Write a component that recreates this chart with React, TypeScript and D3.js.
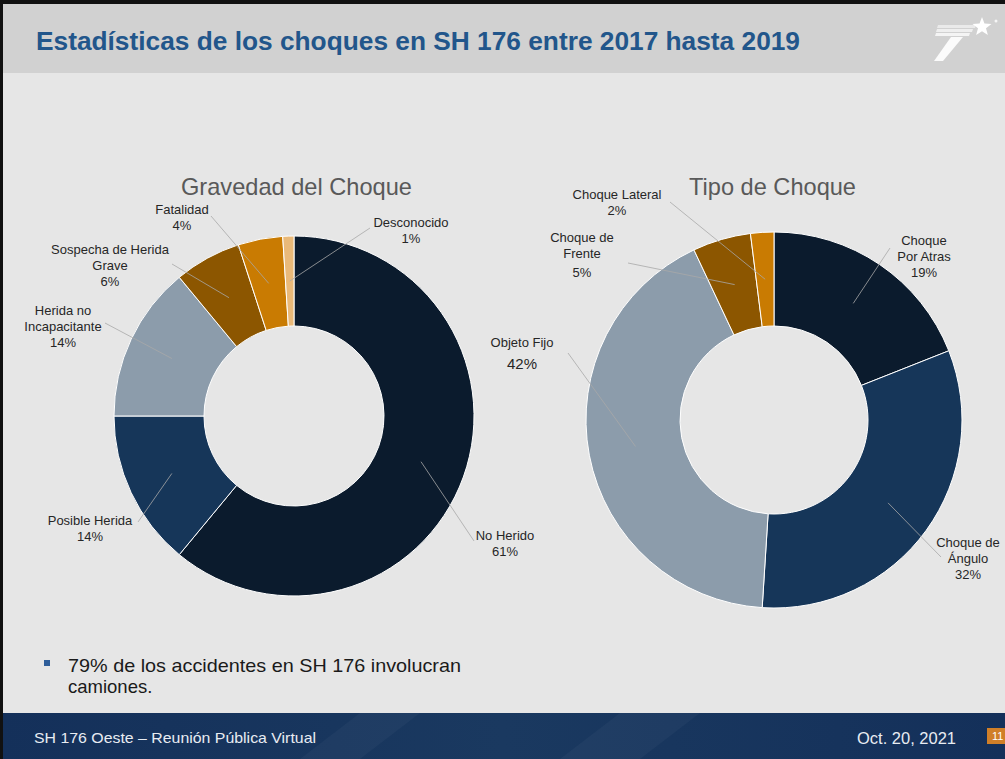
import React from "react";
import * as d3 from "d3";

// ---------- DATA ----------
const severityCategories = [
  "No Herido",
  "Posible Herida",
  "Herida no Incapacitante",
  "Sospecha de Herida Grave",
  "Fatalidad",
  "Desconocido",
];
const severityValues = [61, 14, 14, 6, 4, 1];

const typeCategories = [
  "Choque Por Atras",
  "Choque de Ángulo",
  "Objeto Fijo",
  "Choque de Frente",
  "Choque Lateral",
];
const typeValues = [19, 32, 42, 5, 2];

const slideTitle = "Estadísticas de los choques en SH 176 entre 2017 hasta 2019";
const severityTitle = "Gravedad del Choque";
const typeTitle = "Tipo de Choque";
const bulletLines = ["79% de los accidentes en SH 176 involucran", "camiones."];
const footerLeft = "SH 176 Oeste – Reunión Pública Virtual";
const footerDate = "Oct. 20, 2021";
const pageNumber = "11";

// ---------- STYLE / LAYOUT ----------
const severityColors = ["#0b1b2d", "#163659", "#8c9cab", "#8c5600", "#c97b02", "#e9b979"];
const typeColors = ["#0b1b2d", "#163659", "#8c9cab", "#8c5600", "#c97b02"];

type LabelLayout = {
  x: number;
  y: number;
  lx: number;
  ly: number;
  words: number[];
  pctGap?: number;
  pctSize?: number;
};

const severityLayout: LabelLayout[] = [
  { x: 505, y: 540, lx: 474, ly: 541, words: [2] },
  { x: 90, y: 525, lx: 138, ly: 522, words: [2] },
  { x: 63, y: 315, lx: 105, ly: 323, words: [2, 1] },
  { x: 110, y: 254, lx: 172, ly: 264, words: [3, 1] },
  { x: 182, y: 214, lx: 211, ly: 216, words: [1] },
  { x: 411, y: 227, lx: 370, ly: 228, words: [1] },
];

const typeLayout: LabelLayout[] = [
  { x: 924, y: 245, lx: 890, ly: 248, words: [1, 2] },
  { x: 968, y: 547, lx: 941, ly: 557, words: [2, 1] },
  { x: 522, y: 347, lx: 568, ly: 353, words: [2], pctGap: 22, pctSize: 15 },
  { x: 582, y: 242, lx: 628, ly: 263, words: [2, 1], pctGap: 19 },
  { x: 617, y: 199, lx: 670, ly: 202, words: [2] },
];

const labelFont = "'Liberation Sans', Arial, sans-serif";
const LINE_H = 16;

function splitWords(name: string, counts: number[]): string[] {
  const w = name.split(" ");
  const out: string[] = [];
  let i = 0;
  counts.forEach((c) => {
    out.push(w.slice(i, i + c).join(" "));
    i += c;
  });
  if (i < w.length) out[out.length - 1] += " " + w.slice(i).join(" ");
  return out;
}

type DonutProps = {
  cx: number;
  cy: number;
  inner: number;
  outer: number;
  categories: string[];
  values: number[];
  colors: string[];
  layout: LabelLayout[];
};

function Donut({ cx, cy, inner, outer, categories, values, colors, layout }: DonutProps) {
  const pie = d3
    .pie<number>()
    .sort(null)
    .value((d) => d)
    .startAngle(0)
    .endAngle(2 * Math.PI);
  const arcs = pie(values);
  const arc = d3.arc<d3.PieArcDatum<number>>().innerRadius(inner).outerRadius(outer);
  return (
    <g>
      <g transform={`translate(${cx},${cy})`}>
        {arcs.map((a, i) => (
          <path key={i} d={arc(a) || ""} fill={colors[i]} stroke="#ffffff" strokeWidth={1} />
        ))}
      </g>
      {arcs.map((a, i) => {
        const c = arc.centroid(a);
        const L = layout[i];
        return (
          <line
            key={"l" + i}
            x1={L.lx}
            y1={L.ly}
            x2={cx + c[0]}
            y2={cy + c[1]}
            stroke="#a8a8a8"
            strokeWidth={0.8}
          />
        );
      })}
      {categories.map((name, i) => {
        const L = layout[i];
        const lines = splitWords(name, L.words);
        const pctY = L.y + (lines.length - 1) * LINE_H + (L.pctGap ?? LINE_H);
        return (
          <g key={"t" + i} fontFamily={labelFont} fill="#262626" textAnchor="middle">
            {lines.map((t, j) => (
              <text key={j} x={L.x} y={L.y + j * LINE_H} fontSize={13}>
                {t}
              </text>
            ))}
            <text x={L.x} y={pctY} fontSize={L.pctSize ?? 13}>
              {values[i] + "%"}
            </text>
          </g>
        );
      })}
    </g>
  );
}

function starPoints(cx: number, cy: number, ro: number, ri: number): string {
  const pts: string[] = [];
  for (let k = 0; k < 10; k++) {
    const r = k % 2 === 0 ? ro : ri;
    const ang = -Math.PI / 2 + (k * Math.PI) / 5;
    pts.push(`${cx + r * Math.cos(ang)},${cy + r * Math.sin(ang)}`);
  }
  return pts.join(" ");
}

export default function App() {
  return (
    <svg
      width={1005}
      height={759}
      viewBox="0 0 1005 759"
      style={{ position: "absolute", left: 0, top: 0, display: "block" }}
    >
      <defs>
        <linearGradient id="footGrad" x1="0" y1="0" x2="1" y2="0">
          <stop offset="0" stopColor="#14305a" />
          <stop offset="0.5" stopColor="#1a3960" />
          <stop offset="1" stopColor="#14305a" />
        </linearGradient>
      </defs>
      {/* backgrounds */}
      <rect x={0} y={0} width={1005} height={759} fill="#e6e6e6" />
      <rect x={0} y={0} width={1005} height={73} fill="#d1d1d1" />
      <rect x={0} y={713} width={1005} height={46} fill="url(#footGrad)" />
      <polygon points="300,759 360,713 420,713 360,759" fill="#ffffff" opacity={0.03} />
      <polygon points="560,759 620,713 700,713 640,759" fill="#ffffff" opacity={0.03} />
      {/* border */}
      <rect x={0} y={0} width={1005} height={4} fill="#111111" />
      <rect x={0} y={0} width={3} height={759} fill="#111111" />

      {/* title */}
      <text
        x={36}
        y={50}
        fontFamily="'Liberation Sans Narrow', 'Liberation Sans', Arial, sans-serif"
        fontWeight="bold"
        fontSize={26}
        fill="#22568b"
        textLength={764}
        lengthAdjust="spacingAndGlyphs"
      >
        {slideTitle}
      </text>

      {/* logo */}
      <g fill="#ffffff">
        <polygon points="938,25 976,25 975,28 937,28" opacity={0.55} />
        <polygon points="937,29 973,29 972,32 936,32" opacity={0.65} />
        <polygon points="936,33 970,33 969,36 935,36" opacity={0.75} />
        <polygon points="951,37 963,37 943,61 934,61" opacity={0.9} />
        <polygon points={starPoints(982, 27, 10, 4.2)} />
        <circle cx={996} cy={21} r={1.5} opacity={0.8} />
      </g>

      {/* chart titles */}
      <text
        x={296.5}
        y={195}
        textAnchor="middle"
        fontFamily={labelFont}
        fontSize={24}
        fill="#595959"
        textLength={231}
        lengthAdjust="spacingAndGlyphs"
      >
        {severityTitle}
      </text>
      <text
        x={772.5}
        y={195}
        textAnchor="middle"
        fontFamily={labelFont}
        fontSize={24}
        fill="#595959"
        textLength={167}
        lengthAdjust="spacingAndGlyphs"
      >
        {typeTitle}
      </text>

      <Donut
        cx={294}
        cy={416}
        inner={90}
        outer={180}
        categories={severityCategories}
        values={severityValues}
        colors={severityColors}
        layout={severityLayout}
      />
      <Donut
        cx={774}
        cy={420}
        inner={94}
        outer={188}
        categories={typeCategories}
        values={typeValues}
        colors={typeColors}
        layout={typeLayout}
      />

      {/* bullet */}
      <rect x={44} y={660} width={6} height={6} fill="#2e5d99" />
      {bulletLines.map((t, i) => (
        <text
          key={i}
          x={68}
          y={672 + i * 21}
          fontFamily={labelFont}
          fontSize={18.5}
          fill="#1a1a1a"
          textLength={i === 0 ? 393 : undefined}
          lengthAdjust="spacingAndGlyphs"
        >
          {t}
        </text>
      ))}

      {/* footer */}
      <text
        x={34}
        y={743}
        fontFamily={labelFont}
        fontSize={15}
        fill="#e8ecf2"
        textLength={282}
        lengthAdjust="spacingAndGlyphs"
      >
        {footerLeft}
      </text>
      <text
        x={857}
        y={744}
        fontFamily={labelFont}
        fontSize={16}
        fill="#e8ecf2"
        textLength={99}
        lengthAdjust="spacingAndGlyphs"
      >
        {footerDate}
      </text>
      <rect x={987} y={728} width={18} height={16} fill="#d07f28" />
      <text x={992} y={740} fontFamily={labelFont} fontSize={11} fill="#ffffff">
        {pageNumber}
      </text>
    </svg>
  );
}
